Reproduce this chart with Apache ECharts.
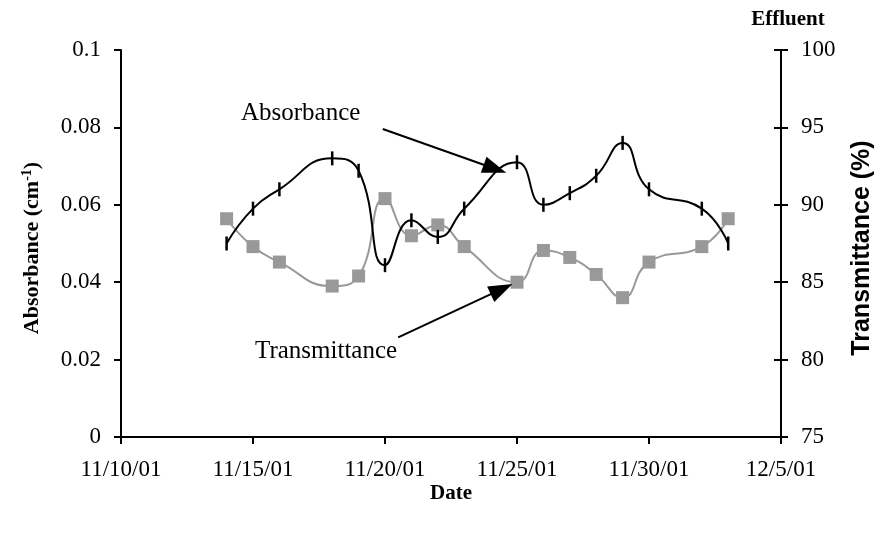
<!DOCTYPE html>
<html>
<head>
<meta charset="utf-8">
<script src="https://cdn.jsdelivr.net/npm/echarts@6/dist/echarts.min.js"></script>
<style>html,body{margin:0;padding:0;background:#fff;}#c{width:881px;height:537px;}</style>
</head>
<body>
<div id="c"></div>
<script>
// ---- data ----
const xStart = '2001-11-10';
const xEnd = '2001-12-05';
const dates = ['2001-11-14','2001-11-15','2001-11-16','2001-11-18','2001-11-19','2001-11-20','2001-11-21','2001-11-22','2001-11-23','2001-11-25','2001-11-26','2001-11-27','2001-11-28','2001-11-29','2001-11-30','2001-12-02','2001-12-03'];
const absorbance = [0.050, 0.059, 0.064, 0.072, 0.0688, 0.0444, 0.056, 0.0517, 0.059, 0.071, 0.060, 0.063, 0.0675, 0.076, 0.064, 0.059, 0.050];
const transmittance = [89.1, 87.3, 86.3, 84.75, 85.4, 90.4, 88.0, 88.7, 87.3, 85.0, 87.05, 86.6, 85.5, 84.0, 86.3, 87.3, 89.1];
// annotation arrows: [startDate, startValue, endDate, endValue]
const absArrow = ['2001-11-19T22:00', 0.0796, '2001-11-24T04:00', 0.0693];
const transArrow = ['2001-11-20T12:00', 81.44, '2001-11-24T10:00', 84.55];

const DAY = 86400000;
const t0 = Date.parse(xStart + 'T00:00Z');
function dOff(s){ const iso = s.length === 10 ? s + 'T00:00Z' : s + 'Z'; return (Date.parse(iso) - t0) / DAY; }
const xMax = dOff(xEnd);

const serif = '"Liberation Serif", "Times New Roman", serif';
const sans = '"Liberation Sans", Arial, sans-serif';

const chart = echarts.init(document.getElementById('c'), null, {renderer: 'canvas'});
const axisLineStyle = {color: '#000', width: 2};
const arrowMark = function(a){
  return {
    silent: true, symbol: ['none', 'triangle'], symbolSize: [17, 24],
    label: {show: false},
    lineStyle: {color: '#000', width: 2, type: 'solid'},
    itemStyle: {color: '#000'},
    emphasis: {disabled: true},
    data: [[{coord: [dOff(a[0]), a[1]]}, {coord: [dOff(a[2]), a[3]]}]]
  };
};
chart.setOption({
  animation: false,
  backgroundColor: '#fff',
  grid: {left: 121, right: 100, top: 50, bottom: 100, containLabel: false},
  xAxis: {
    type: 'value', min: 0, max: xMax, interval: 5,
    axisLine: {show: true, lineStyle: axisLineStyle, onZero: false},
    axisTick: {show: true, inside: false, length: 7, lineStyle: {color: '#000', width: 2}},
    splitLine: {show: false},
    axisLabel: {
      margin: 21, color: '#000', fontFamily: serif, fontSize: 23,
      formatter: function(v){ const d = new Date(t0 + v * DAY); return (d.getUTCMonth()+1) + '/' + d.getUTCDate() + '/' + String(d.getUTCFullYear()).slice(2); }
    }
  },
  yAxis: [
    {
      type: 'value', min: 0, max: 0.1, interval: 0.02, position: 'left',
      axisLine: {show: true, lineStyle: axisLineStyle},
      axisTick: {show: true, inside: false, length: 7, lineStyle: {color: '#000', width: 2}},
      splitLine: {show: false},
      axisLabel: {margin: 20, color: '#000', fontFamily: serif, fontSize: 23,
        formatter: function(v){ return v === 0 ? '0' : String(+v.toFixed(2)); }}
    },
    {
      type: 'value', min: 75, max: 100, interval: 5, position: 'right',
      axisLine: {show: true, lineStyle: axisLineStyle},
      axisTick: {show: true, inside: false, length: 7, lineStyle: {color: '#000', width: 2}},
      splitLine: {show: false},
      axisLabel: {margin: 20, color: '#000', fontFamily: serif, fontSize: 23}
    },
    {
      type: 'value', min: 75, max: 100, interval: 5, position: 'right',
      axisLine: {show: false},
      axisTick: {show: true, inside: true, length: 7, lineStyle: {color: '#000', width: 2}},
      splitLine: {show: false},
      axisLabel: {show: false}
    }
  ],
  series: [
    {
      name: 'Transmittance', type: 'line', yAxisIndex: 1, smooth: 0.5,
      data: dates.map((d, i) => [dOff(d), transmittance[i]]),
      symbol: 'rect', symbolSize: 13, showAllSymbol: true,
      lineStyle: {color: '#999999', width: 2},
      itemStyle: {color: '#999999', borderWidth: 0},
      markLine: arrowMark(transArrow)
    },
    {
      name: 'Absorbance', type: 'line', yAxisIndex: 0, smooth: 0.5,
      data: dates.map((d, i) => [dOff(d), absorbance[i]]),
      symbol: 'rect', symbolSize: [2.5, 14], showAllSymbol: true,
      lineStyle: {color: '#000', width: 2},
      itemStyle: {color: '#000', borderWidth: 0},
      markLine: arrowMark(absArrow)
    }
  ],
  graphic: [
    {type: 'text', left: 241, top: 101, style: {text: 'Absorbance', font: '25px ' + serif, fill: '#000'}},
    {type: 'text', left: 255, top: 339, style: {text: 'Transmittance', font: '25px ' + serif, fill: '#000'}},
    {type: 'text', x: 451, y: 494, style: {text: 'Date', font: 'bold 21px ' + serif, fill: '#000', align: 'center', verticalAlign: 'middle'}},
    {type: 'text', x: 788, y: 20, style: {text: 'Effluent', font: 'bold 21px ' + serif, fill: '#000', align: 'center', verticalAlign: 'middle'}},
    {type: 'text', x: 32, y: 248, rotation: Math.PI / 2,
      style: {text: '{a|Absorbance (cm}{s|-1}{a|)}', align: 'center', verticalAlign: 'middle', fill: '#000',
        rich: {a: {font: 'bold 22px ' + serif, fill: '#000'}, s: {font: 'bold 14px ' + serif, fill: '#000', verticalAlign: 'top', padding: [0, 0, 10, 0]}}}},
    {type: 'text', x: 862, y: 248, rotation: Math.PI / 2,
      style: {text: 'Transmittance (%)', font: 'bold 25px ' + sans, fill: '#000', align: 'center', verticalAlign: 'middle'}}
  ]
});
</script>
</body>
</html>
